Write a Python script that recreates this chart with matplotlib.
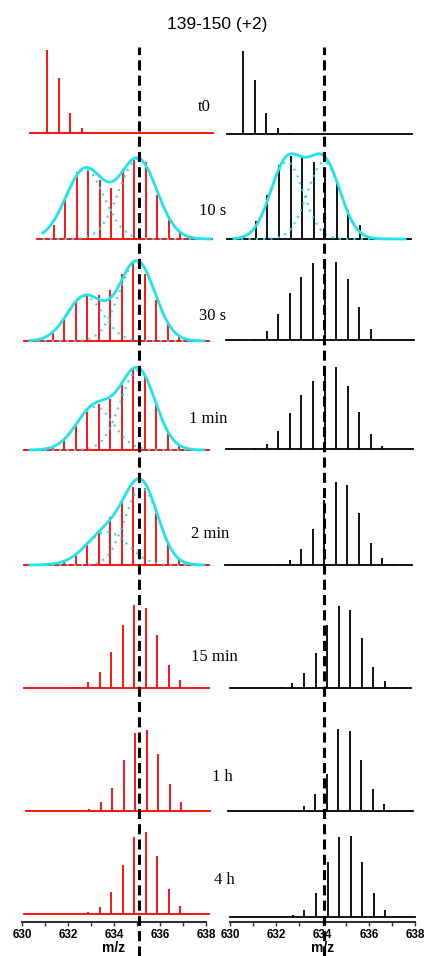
import numpy as np
import matplotlib.pyplot as plt

# HDX time points
labels = ["t0", "10 s", "30 s", "1 min", "2 min", "15 min", "1 h", "4 h"]
spacing = 0.5  # isotope spacing for z = 2

# left column (red): first isotope m/z and relative intensities per time point
left_start = [631.09, 631.39, 631.33, 631.33, 631.84, 632.38, 632.93, 632.88]
left_int = [
    [100, 66, 24, 6, 1],
    [17, 47, 81, 82, 71, 61, 84, 95, 93, 53, 23, 8, 2],
    [10, 27, 47, 55, 55, 61, 81, 95, 81, 49, 23, 6, 1],
    [4, 13, 31, 46, 55, 61, 78, 98, 89, 55, 22, 5],
    [4, 12, 28, 42, 58, 76, 94, 93, 63, 28, 8],
    [1, 7, 19, 43, 76, 100, 96, 64, 28, 10, 1],
    [2, 11, 28, 61, 94, 98, 69, 33, 11, 1],
    [2, 8, 27, 59, 93, 99, 70, 30, 10, 1],
]
left_range = [(630.35, 638.3), (630.65, 638.26), (630.09, 638.13), (630.09, 638.13),
              (630.09, 638.13), (630.09, 638.13), (630.17, 638.17), (630.09, 638.13)]

# right column (black)
right_start = [630.56, 630.62, 631.09, 631.09, 632.08, 632.20, 632.68, 632.72]
right_int = [
    [100, 65, 25, 7, 1],
    [5, 22, 53, 89, 100, 99, 93, 86, 67, 35, 17, 2],
    [1, 11, 31, 57, 76, 93, 98, 94, 73, 40, 13, 1],
    [1, 6, 22, 43, 65, 82, 99, 99, 76, 45, 18, 4],
    [1, 6, 19, 43, 78, 100, 96, 63, 27, 8, 1],
    [1, 6, 18, 42, 76, 99, 94, 60, 25, 8, 1],
    [1, 6, 20, 45, 99, 96, 62, 27, 9, 1],
    [2, 9, 29, 66, 96, 98, 66, 29, 9, 1],
]
right_range = [(629.87, 637.87), (629.87, 637.83), (629.83, 637.94), (629.83, 637.91),
               (629.77, 637.87), (630.0, 637.83), (629.91, 637.91), (630.0, 637.99)]

# bimodal gaussian fits: row -> [(center, amplitude, sigma), ...], envelope range
left_fits = {
    1: [(632.74, 84, 0.83), (635.04, 96, 0.83)],
    2: [(632.74, 54, 0.78), (635.00, 96, 0.78)],
    3: [(633.17, 52, 0.80), (635.04, 96, 0.76)],
    4: [(633.70, 40, 0.90), (635.20, 93, 0.72)],
}
left_fit_range = {1: (630.9, 638.2), 2: (630.35, 637.9), 3: (630.35, 637.9), 4: (630.35, 637.9)}
right_fits = {1: [(632.46, 93, 0.71), (634.06, 93, 0.71)]}
right_fit_range = {1: (630.17, 637.57)}

ref_left = 635.1
ref_right = 634.07

# vertical offsets of each row (pixels above the axis) and pixels per % intensity
left_offset = [789, 683, 581, 472, 357, 234, 111, 8]
right_offset = [788, 683, 582, 473, 357, 234, 111, 5]
scale = 0.83
label_xy = [(204, 107), (213, 211), (213, 316), (208, 419), (210, 534),
            (214, 657), (222, 777), (224, 880)]

W, H = 424, 956
fig = plt.figure(figsize=(W / 100, H / 100), dpi=100)
cyan = '#1EE6E8'


def gauss(x, c, a, s):
    return a * np.exp(-(x - c) ** 2 / (2 * s ** 2))


def column(x0, x1, starts, ints, ranges, offsets, color, fits, fit_ranges, ref):
    ax = fig.add_axes([x0 / W, (H - 922) / H, (x1 - x0) / W, 902 / H])
    ax.set_xlim(630, 638)
    ax.set_ylim(0, 902)
    for i in range(len(starts)):
        y0 = offsets[i]
        mz = starts[i] + spacing * np.arange(len(ints[i]))
        ax.plot(ranges[i], [y0, y0], color=color, lw=1.3, clip_on=False)
        ax.vlines(mz, y0, y0 + np.array(ints[i]) * scale, color=color, lw=1.3,
                  clip_on=False)
        if i in fits:
            xx = np.linspace(fit_ranges[i][0], fit_ranges[i][1], 300)
            total = np.zeros_like(xx)
            for c, a, s in fits[i]:
                g = gauss(xx, c, a, s)
                total += g
                ax.plot(xx, y0 + g * scale, color=cyan, lw=1.5,
                        ls=(0, (1, 2.5)), clip_on=False)
            ax.plot(xx, y0 + total * scale, color=cyan, lw=2.0, clip_on=False)
    ax.axvline(ref, ymin=(922 - H) / 902, ymax=(922 - 47) / 902, color='black',
               lw=2.2, ls=(0, (3.3, 1.7)), clip_on=False, zorder=5)
    for s in ['left', 'right', 'top']:
        ax.spines[s].set_visible(False)
    ax.spines['bottom'].set_color('#333333')
    ax.spines['bottom'].set_linewidth(1.5)
    ax.set_yticks([])
    ax.set_xticks(np.arange(630, 639, 2))
    ax.set_xticks(np.arange(631, 638, 2), minor=True)
    ax.tick_params(axis='x', which='both', length=3, width=1, color='#333333',
                   labelsize=8.5, pad=2)
    for t in ax.get_xticklabels():
        t.set_fontweight('bold')
        t.set_family('Liberation Sans')
    ax.set_xlabel('m/z', fontsize=10, fontweight='bold', family='Liberation Sans',
                  labelpad=0)
    ax.patch.set_alpha(0)
    return ax


column(22, 206, left_start, left_int, left_range, left_offset, 'red',
       left_fits, left_fit_range, ref_left)
column(230, 415, right_start, right_int, right_range, right_offset, 'black',
       right_fits, right_fit_range, ref_right)

for lab, (x, y) in zip(labels, label_xy):
    fig.text(x / W, 1 - y / H, lab, ha='center', va='center',
             family='Liberation Serif', fontsize=12)

fig.text(217 / W, 1 - 25 / H, "139-150 (+2)", ha='center', va='center',
         family='Liberation Sans', fontsize=12.5)

fig.savefig('out.png', dpi=100)
